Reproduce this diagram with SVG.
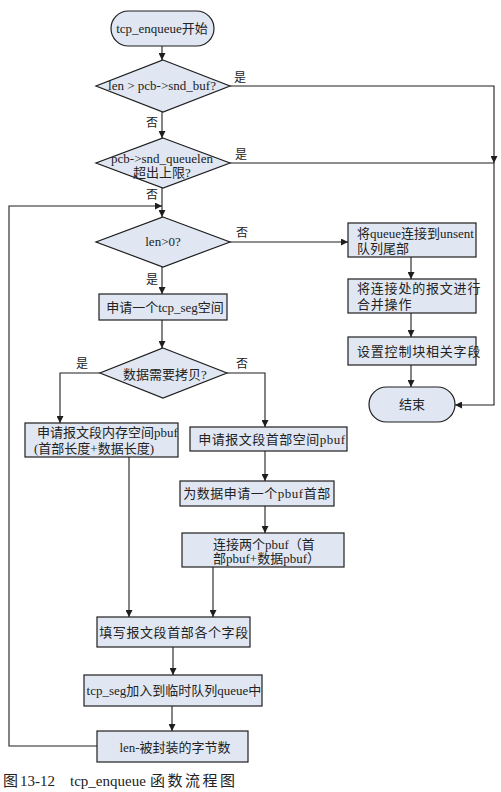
<svg xmlns="http://www.w3.org/2000/svg" width="501" height="792" viewBox="0 0 501 792">
<style>
.n{fill:#e0e7f3;stroke:#1e1e1e;stroke-width:1.2}
.t{font-family:"Liberation Serif","Noto Sans CJK SC",serif;font-size:13px;fill:#222}
.c{text-anchor:middle}
.l{font-family:"Liberation Serif","Noto Sans CJK SC",serif;font-size:12px;fill:#222}
.e{fill:none;stroke:#1e1e1e;stroke-width:1.1}
.cap{font-family:"Liberation Serif","Noto Sans CJK SC",serif;font-size:15px;fill:#222}
</style>
<defs>
<marker id="a" viewBox="0 0 10 10" refX="10" refY="5" markerWidth="7" markerHeight="7" markerUnits="userSpaceOnUse" orient="auto">
<path d="M0,0 L10,5 L0,10 z" fill="#1e1e1e"/>
</marker>
</defs>
<rect width="501" height="792" fill="#fff"/>
<g id="connectors">
<path class="e" d="M162,46 V60" marker-end="url(#a)"/>
<path class="e" d="M162,112 V138" marker-end="url(#a)"/>
<path class="e" d="M162,188 V217" marker-end="url(#a)"/>
<path class="e" d="M230,86 H494 V163" marker-end="url(#a)"/>
<path class="e" d="M230,163 H494 V405 H455" marker-end="url(#a)"/>
<path class="e" d="M230,242 H348" marker-end="url(#a)"/>
<path class="e" d="M411,257 V279" marker-end="url(#a)"/>
<path class="e" d="M411,313 V337" marker-end="url(#a)"/>
<path class="e" d="M411,365 V387" marker-end="url(#a)"/>
<path class="e" d="M162,267 V294" marker-end="url(#a)"/>
<path class="e" d="M162,320 V348" marker-end="url(#a)"/>
<path class="e" d="M100,373 H60 V423" marker-end="url(#a)"/>
<path class="e" d="M227,373 H265 V427" marker-end="url(#a)"/>
<path class="e" d="M265,451 V481" marker-end="url(#a)"/>
<path class="e" d="M265,506 V533" marker-end="url(#a)"/>
<path class="e" d="M213,567 V617" marker-end="url(#a)"/>
<path class="e" d="M129,457 V617" marker-end="url(#a)"/>
<path class="e" d="M173,647 V675" marker-end="url(#a)"/>
<path class="e" d="M172,706 V731" marker-end="url(#a)"/>
<path class="e" d="M97,746 H9 V206 H162" marker-end="url(#a)"/>
<text class="l" x="234" y="82">是</text>
<text class="l" x="146" y="127">否</text>
<text class="l" x="235" y="159">是</text>
<text class="l" x="146" y="199">否</text>
<text class="l" x="236" y="237">否</text>
<text class="l" x="146" y="284">是</text>
<text class="l" x="76" y="368">是</text>
<text class="l" x="236" y="368">否</text>
</g>
<g id="start">
<rect class="n" x="111" y="11" width="103" height="35" rx="17.5"/>
<text class="t c" x="162" y="33">tcp_enqueue开始</text>
</g>
<g id="d1">
<path class="n" d="M163,60 L230,86 L163,112 L96,86 z"/>
<text class="t c" x="162" y="90">len &gt; pcb-&gt;snd_buf?</text>
</g>
<g id="d2">
<path class="n" d="M163,138 L230,163 L163,188 L96,163 z"/>
<text class="t c" x="162" y="163">pcb-&gt;snd_queuelen</text>
<text class="t c" x="162" y="177">超出上限?</text>
</g>
<g id="d3">
<path class="n" d="M163,217 L230,242 L163,267 L96,242 z"/>
<text class="t c" x="163" y="246">len&gt;0?</text>
</g>
<g id="r1">
<rect class="n" x="348" y="223" width="128" height="34"/>
<text class="t" x="357" y="238">将queue连接到unsent</text>
<text class="t" x="357" y="253">队列尾部</text>
</g>
<g id="r2">
<rect class="n" x="348" y="279" width="128" height="34"/>
<text class="t" x="357" y="293" letter-spacing="0.8">将连接处的报文进行</text>
<text class="t" x="357" y="309" letter-spacing="0.8">合并操作</text>
</g>
<g id="r3">
<rect class="n" x="348" y="337" width="128" height="28"/>
<text class="t" x="357" y="356" letter-spacing="0.8">设置控制块相关字段</text>
</g>
<g id="end">
<rect class="n" x="369" y="387" width="86" height="35" rx="17.5"/>
<text class="t c" x="412" y="409">结束</text>
</g>
<g id="b1">
<rect class="n" x="99" y="294" width="128" height="26"/>
<text class="t c" x="165" y="312">申请一个tcp_seg空间</text>
</g>
<g id="d4">
<path class="n" d="M163,348 L227,373 L163,398 L100,373 z"/>
<text class="t c" x="165" y="379">数据需要拷贝?</text>
</g>
<g id="l1">
<rect class="n" x="25" y="423" width="153" height="34"/>
<text class="t" x="37" y="437">申请报文段内存空间pbuf</text>
<text class="t" x="34" y="453">(首部长度+数据长度)</text>
</g>
<g id="r4">
<rect class="n" x="190" y="427" width="157" height="24"/>
<text class="t c" x="272" y="444" letter-spacing="0.5">申请报文段首部空间pbuf</text>
</g>
<g id="r5">
<rect class="n" x="180" y="481" width="154" height="25"/>
<text class="t c" x="257" y="498" letter-spacing="0.5">为数据申请一个pbuf首部</text>
</g>
<g id="r6">
<rect class="n" x="182" y="533" width="162" height="34"/>
<text class="t" x="213" y="549">连接两个pbuf（首</text>
<text class="t" x="213" y="563">部pbuf+数据pbuf）</text>
</g>
<g id="f">
<rect class="n" x="97" y="617" width="153" height="30"/>
<text class="t c" x="174" y="637" letter-spacing="0.6">填写报文段首部各个字段</text>
</g>
<g id="q">
<rect class="n" x="84" y="675" width="178" height="31"/>
<text class="t c" x="174" y="695">tcp_seg加入到临时队列queue中</text>
</g>
<g id="len">
<rect class="n" x="97" y="731" width="151" height="31"/>
<text class="t c" x="175" y="752">len-被封装的字节数</text>
</g>
<text class="cap" y="786"><tspan x="3">图</tspan><tspan x="20">13-12</tspan><tspan x="70">tcp_enqueue</tspan><tspan x="150" letter-spacing="2.5">函数流程图</tspan></text>
</svg>
